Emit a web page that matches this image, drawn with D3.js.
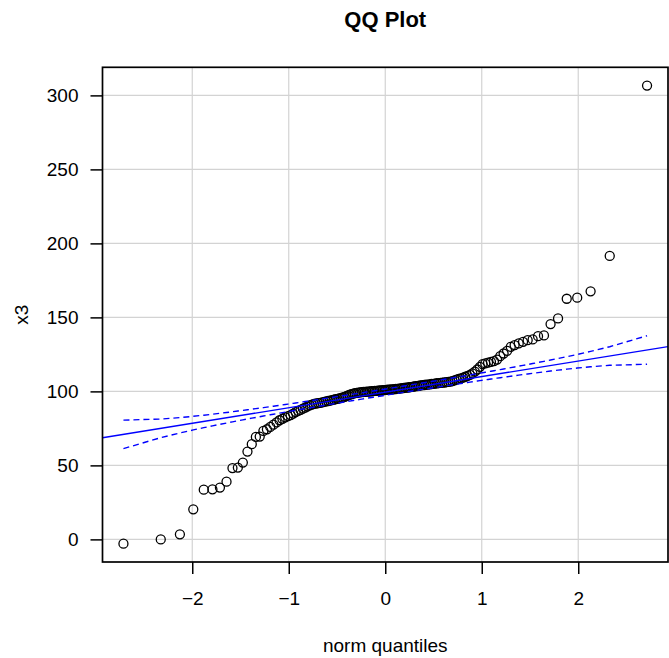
<!DOCTYPE html>
<html><head><meta charset="utf-8">
<script src="https://cdn.jsdelivr.net/npm/d3@7"></script>
<style>body{margin:0;background:#fff}svg{display:block}</style>
</head><body>
<svg id="c" width="669" height="658"></svg>
<script>
const title = "QQ Plot";
const xLabel = "norm quantiles";
const yLabel = "x3";
const xTicks = [-2, -1, 0, 1, 2];
const yTicks = [0, 50, 100, 150, 200, 250, 300];
const envelopeLevel = 0.95;
// sorted sample values (x3)
const x3Sorted = [
 -2.9, 0, 3.4, 20.3, 33.6, 33.8, 35.0, 39.0, 48.2, 48.5,
 51.9, 59.3, 64.3, 69.2, 69.5, 73.3, 74.4, 76.0, 77.5, 79.0,
 80.5, 81.5, 82.5, 83.3, 84.0, 85.0, 86.0, 86.8, 87.5, 88.3,
 89.0, 89.8, 90.5, 91.0, 91.5, 91.8, 92.1, 92.3, 92.6, 92.9,
 93.2, 93.5, 93.8, 94.1, 94.4, 94.7, 95.0, 95.3, 95.6, 95.9,
 96.3, 96.8, 97.3, 97.8, 98.2, 98.5, 98.8, 99.0, 99.2, 99.4,
 99.5, 99.6, 99.7, 99.8, 99.9, 100.0, 100.1, 100.2, 100.3, 100.4,
 100.5, 100.6, 100.7, 100.8, 100.9, 101.0, 101.1, 101.2, 101.3, 101.4,
 101.5, 101.6, 101.7, 101.9, 102.0, 102.2, 102.3, 102.5, 102.6, 102.8,
 102.9, 103.1, 103.3, 103.5, 103.6, 103.8, 104.0, 104.2, 104.3, 104.5,
 104.6, 104.8, 105.0, 105.1, 105.3, 105.5, 105.6, 105.8, 105.9, 106.0,
 106.2, 106.4, 106.6, 107.0, 107.5, 108.0, 108.4, 108.8, 109.3, 109.9,
 110.5, 111.2, 112.2, 113.4, 114.8, 116.6, 118.4, 118.9, 119.5, 120.0,
 120.4, 121.5, 123.8, 125.6, 127.4, 130.1, 131.3, 132.4, 133.5, 134.6,
 135.1, 137.3, 137.8, 145.5, 149.3, 162.6, 163.3, 167.6, 191.5, 306.6
];

// normal quantile (Acklam) and density
function qnorm(p){
 const a=[-3.969683028665376e+01,2.209460984245205e+02,-2.759285104469687e+02,1.383577518672690e+02,-3.066479806614716e+01,2.506628277459239e+00];
 const b=[-5.447609879822406e+01,1.615858368580409e+02,-1.556989798598866e+02,6.680131188771972e+01,-1.328068155288572e+01];
 const c=[-7.784894002430293e-03,-3.223964580411365e-01,-2.400758277161838e+00,-2.549732539343734e+00,4.374664141464968e+00,2.938163982698783e+00];
 const d=[7.784695709041462e-03,3.224671290700398e-01,2.445134137142996e+00,3.754408661907416e+00];
 const pl=0.02425, ph=1-pl; let q, r;
 if(p<pl){q=Math.sqrt(-2*Math.log(p));return (((((c[0]*q+c[1])*q+c[2])*q+c[3])*q+c[4])*q+c[5])/((((d[0]*q+d[1])*q+d[2])*q+d[3])*q+1);}
 if(p<=ph){q=p-0.5;r=q*q;return (((((a[0]*r+a[1])*r+a[2])*r+a[3])*r+a[4])*r+a[5])*q/(((((b[0]*r+b[1])*r+b[2])*r+b[3])*r+b[4])*r+1);}
 q=Math.sqrt(-2*Math.log(1-p));return -(((((c[0]*q+c[1])*q+c[2])*q+c[3])*q+c[4])*q+c[5])/((((d[0]*q+d[1])*q+d[2])*q+d[3])*q+1);
}
const dnorm = z => Math.exp(-z*z/2)/Math.sqrt(2*Math.PI);

const n = x3Sorted.length;
const P = x3Sorted.map((_, i) => (i + 0.5) / n);
const z = P.map(qnorm);
const pts = x3Sorted.map((v, i) => ({z: z[i], v}));

// reference line through quartiles
const q1 = d3.quantileSorted(x3Sorted, 0.25), q3 = d3.quantileSorted(x3Sorted, 0.75);
const slope = (q3 - q1) / (qnorm(0.75) - qnorm(0.25));
const intercept = q1 - slope * qnorm(0.25);
const zz = qnorm(1 - (1 - envelopeLevel) / 2);
const band = pts.map((p, i) => {
  const fit = intercept + slope * p.z;
  const se = (slope / dnorm(p.z)) * Math.sqrt(P[i] * (1 - P[i]) / n);
  return {z: p.z, up: fit + zz * se, lo: fit - zz * se};
});

const W = 669, H = 658;
const m = {left: 102.5, right: 1, top: 67.3, bottom: 96};
const zr = d3.extent(z), vr = d3.extent(x3Sorted);
const zpad = (zr[1] - zr[0]) * 0.04, vpad = (vr[1] - vr[0]) * 0.04;
const x = d3.scaleLinear().domain([zr[0] - zpad, zr[1] + zpad]).range([m.left, W - m.right]);
const y = d3.scaleLinear().domain([vr[0] - vpad, vr[1] + vpad]).range([H - m.bottom, m.top]);

const svg = d3.select("#c");
const font = "'Liberation Sans', Arial, Helvetica, sans-serif";
svg.append("rect").attr("width", W).attr("height", H).attr("fill", "#fff");

svg.append("defs").append("clipPath").attr("id", "clip")
  .append("rect").attr("x", x.range()[0]).attr("y", y.range()[1])
  .attr("width", x.range()[1] - x.range()[0]).attr("height", y.range()[0] - y.range()[1]);

// grid
const grid = svg.append("g").attr("stroke", "#d3d3d3").attr("stroke-width", 1.2);
grid.selectAll(".gv").data(xTicks).join("line")
  .attr("x1", d => x(d)).attr("x2", d => x(d)).attr("y1", y.range()[1]).attr("y2", y.range()[0]);
grid.selectAll(".gh").data(yTicks).join("line")
  .attr("y1", d => y(d)).attr("y2", d => y(d)).attr("x1", x.range()[0]).attr("x2", x.range()[1]);

// axes
const xAxis = svg.append("g").attr("transform", `translate(0,${H - m.bottom})`)
  .call(d3.axisBottom(x).tickValues(xTicks).tickSize(12).tickPadding(18).tickFormat(d3.format("d")));
const yAxis = svg.append("g").attr("transform", `translate(${m.left},0)`)
  .call(d3.axisLeft(y).tickValues(yTicks).tickSize(12).tickPadding(12).tickFormat(d3.format("d")));
[xAxis, yAxis].forEach(g => {
  g.select(".domain").remove();
  g.selectAll("line").attr("stroke", "#000").attr("stroke-width", 1.5);
  g.selectAll("text").attr("font-family", font).attr("font-size", 19).attr("fill", "#000");
});

// points
const plot = svg.append("g").attr("clip-path", "url(#clip)");
plot.selectAll("circle").data(pts).join("circle")
  .attr("cx", d => x(d.z)).attr("cy", d => y(d.v)).attr("r", 4.5)
  .attr("fill", "none").attr("stroke", "#000").attr("stroke-width", 1.3);

// reference line
const xd = x.domain();
plot.append("line")
  .attr("x1", x(xd[0])).attr("y1", y(intercept + slope * xd[0]))
  .attr("x2", x(xd[1])).attr("y2", y(intercept + slope * xd[1]))
  .attr("stroke", "#0000ff").attr("stroke-width", 1.4);
const lineUp = d3.line().x(d => x(d.z)).y(d => y(d.up));
const lineLo = d3.line().x(d => x(d.z)).y(d => y(d.lo));
[lineUp, lineLo].forEach(l => plot.append("path").attr("d", l(band))
  .attr("fill", "none").attr("stroke", "#0000ff").attr("stroke-width", 1.4).attr("stroke-dasharray", "6,4"));

// box
svg.append("rect").attr("x", x.range()[0]).attr("y", y.range()[1])
  .attr("width", x.range()[1] - x.range()[0]).attr("height", y.range()[0] - y.range()[1])
  .attr("fill", "none").attr("stroke", "#000").attr("stroke-width", 1.7);

// labels
svg.append("text").attr("x", (x.range()[0] + x.range()[1]) / 2).attr("y", 27)
  .attr("text-anchor", "middle").attr("font-family", font).attr("font-weight", "bold")
  .attr("font-size", 22).text(title);
svg.append("text").attr("x", (x.range()[0] + x.range()[1]) / 2).attr("y", 652)
  .attr("text-anchor", "middle").attr("font-family", font).attr("font-size", 19).text(xLabel);
svg.append("text").attr("transform", `translate(28,${(y.range()[0] + y.range()[1]) / 2}) rotate(-90)`)
  .attr("text-anchor", "middle").attr("font-family", font).attr("font-size", 19).text(yLabel);
</script>
</body></html>
